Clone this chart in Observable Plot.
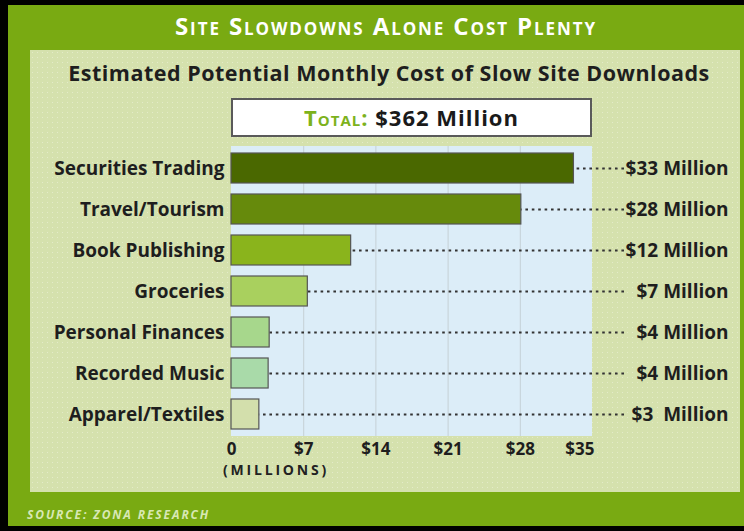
<!DOCTYPE html>
<html>
<head>
<meta charset="utf-8">
<script src="https://cdn.jsdelivr.net/npm/d3@7"></script>
<script src="https://cdn.jsdelivr.net/npm/@observablehq/plot@0.6"></script>
<style>
  html, body { margin: 0; padding: 0; background: #000; }
  #wrap { position: relative; width: 744px; height: 531px; background: #000; overflow: hidden; font-family: "Open Sans", sans-serif; }
  #green { position: absolute; left: 8px; top: 5px; width: 736px; height: 521px; background: #79aa12; }
  #panel { position: absolute; left: 30px; top: 50px; width: 710px; height: 442px; background-color: #d5e1ad;
           background-image: radial-gradient(rgba(255,255,255,0.35) 0.7px, transparent 1px); background-size: 5px 5px; }
  #title { position: absolute; left: 0; top: 11px; width: 772px; text-align: center; color: #fff; font-weight: 700;
           font-variant: small-caps; font-size: 24px; line-height: 30px; letter-spacing: 1.9px; }
  #subtitle { position: absolute; left: 0; top: 59px; width: 778px; text-align: center; color: #1e1e1e; font-weight: 700;
              font-size: 21.5px; line-height: 28px; letter-spacing: 0.5px; }
  #total { position: absolute; left: 231px; top: 98px; width: 357px; height: 35px; border: 2px solid #5a5a5a; background: #fff;
           text-align: center; line-height: 35px; font-weight: 700; font-size: 22px; letter-spacing: 1px; color: #1a1a1a; }
  #total .lab { color: #7db21c; font-variant: small-caps; }
  #plotbg { position: absolute; left: 231px; top: 146px; width: 361px; height: 290px; background: #dcedf8; }
  #chart { position: absolute; left: 0; top: 0; }
  #units { position: absolute; left: 223px; top: 460px; font-weight: 700; font-size: 14px; letter-spacing: 2.8px; color: #222; }
  #source { position: absolute; left: 27px; top: 506px; font-weight: 700; font-style: italic; font-size: 12px; letter-spacing: 1.9px; color: #d8e8b4; }
</style>
</head>
<body>
<div id="wrap">
  <div id="green"></div>
  <div id="panel"></div>
  <div id="title">Site Slowdowns Alone Cost Plenty</div>
  <div id="subtitle">Estimated Potential Monthly Cost of Slow Site Downloads</div>
  <div id="total"><span class="lab">Total:</span> $362 Million</div>
  <div id="plotbg"></div>
  <div id="chart"></div>
  <div id="units">(MILLIONS)</div>
  <div id="source">SOURCE: ZONA RESEARCH</div>
</div>
<script>
const categories = ["Securities Trading", "Travel/Tourism", "Book Publishing", "Groceries", "Personal Finances", "Recorded Music", "Apparel/Textiles"];
const values = [33.2, 28.1, 11.6, 7.4, 3.7, 3.6, 2.7];
const valueLabels = ["$33 Million", "$28 Million", "$12 Million", "$7 Million", "$4 Million", "$4 Million", "$3  Million"];
const barColors = ["#4a6800", "#668a0c", "#8ab41c", "#a9d05e", "#a7d78c", "#a9daa9", "#d3dfac"];
const xTicks = [0, 7, 14, 21, 28, 35];
const xTickLabels = ["0", "$7", "$14", "$21", "$28", "$35"];

const data = categories.map((c, i) => ({category: c, value: values[i], label: valueLabels[i], color: barColors[i]}));
const tickText = d => xTickLabels[xTicks.indexOf(d)];
const labelFont = {fontSize: 19, fontWeight: 700, fill: "#1e1e1e", letterSpacing: "1.6px"};

const chart = Plot.plot({
  width: 744,
  height: 531,
  marginTop: 146,
  marginBottom: 95,
  marginLeft: 231,
  marginRight: 119,
  style: {background: "transparent", fontFamily: "Open Sans, sans-serif", overflow: "visible"},
  x: {domain: [0, 35], range: [231, 592]},
  y: {domain: categories, paddingInner: 0.27, paddingOuter: 0.145},
  marks: [
    Plot.gridX(xTicks.slice(1, -1), {stroke: "#c5d0d6", strokeOpacity: 1}),
    Plot.ruleY(data, {y: "category", stroke: "#333", strokeWidth: 2, strokeDasharray: "2.6,3.8"}),
    Plot.barX(data, {y: "category", x: "value", fill: "color", stroke: "#555", strokeWidth: 1.2}),
    Plot.text(data, {y: "category", text: "label", frameAnchor: "right", textAnchor: "end", dx: 103,
      ...labelFont, stroke: "#d5e1ad", strokeWidth: 5, paintOrder: "stroke"}),
    Plot.axisY({tickSize: 0, tickPadding: 7, ...labelFont, label: null}),
    Plot.axisX(xTicks.slice(0, -1), {tickSize: 0, tickPadding: 6, fontSize: 17, fontWeight: 700, fill: "#1e1e1e", letterSpacing: "0.6px", tickFormat: tickText, label: null}),
    Plot.axisX(xTicks.slice(-1), {tickSize: 0, tickPadding: 6, fontSize: 17, fontWeight: 700, fill: "#1e1e1e", letterSpacing: "0.6px", tickFormat: tickText, textAnchor: "end", dx: 2, label: null})
  ]
});
document.getElementById("chart").appendChild(chart);
</script>
</body>
</html>
